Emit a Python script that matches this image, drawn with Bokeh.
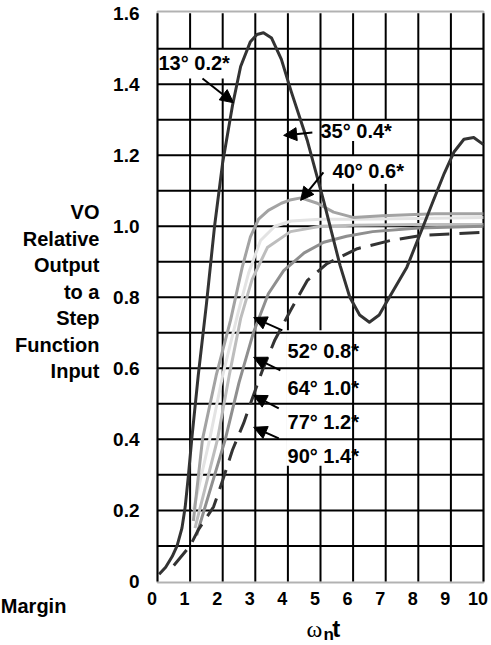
from bokeh.plotting import figure
from bokeh.models import (Range1d, Label, Arrow, NormalHead, LinearAxis, FixedTicker,
                          BoxAnnotation)
from bokeh.embed import file_html
from bokeh.resources import INLINE

# ---------------- data ----------------
# zeta = 0.2 (dark, oscillating)
t_z02 = [0.05, 0.25, 0.45, 0.6, 0.75, 0.85, 0.95, 1.05, 1.25, 1.5, 1.75, 2.0, 2.3, 2.55,
         2.85, 3.05, 3.25, 3.5, 3.8, 4.1, 4.6, 5.1, 5.6, 5.9, 6.2, 6.5, 6.8, 7.05, 7.65, 8.15,
         8.45, 8.8, 9.1, 9.4, 9.7, 10.0]
y_z02 = [0.02, 0.04, 0.07, 0.1, 0.15, 0.21, 0.3, 0.4, 0.58, 0.78, 1.0, 1.18, 1.34, 1.45,
         1.52, 1.54, 1.545, 1.53, 1.47, 1.38, 1.24, 1.07, 0.89, 0.80, 0.75, 0.73, 0.75, 0.79,
         0.885, 1.0, 1.07, 1.15, 1.21, 1.245, 1.25, 1.23]
# zeta = 0.6 (medium grey, small overshoot)
t_z06 = [1.1, 1.38, 1.8, 2.24, 2.6, 2.85, 3.1, 3.4, 3.8, 4.1, 4.4, 4.9, 5.4, 6.0, 6.9, 8.5, 10.0]
y_z06 = [0.17, 0.40, 0.58, 0.735, 0.885, 0.97, 1.02, 1.045, 1.065, 1.075, 1.08, 1.065, 1.04,
         1.025, 1.03, 1.035, 1.035]
# zeta = 0.8 (light grey)
t_z08 = [1.1, 1.6, 2.0, 2.48, 2.8, 3.16, 3.6, 4.1, 5.0, 6.0, 8.0, 10.0]
y_z08 = [0.2, 0.4, 0.58, 0.76, 0.87, 0.96, 1.0, 1.015, 1.02, 1.02, 1.022, 1.025]
# zeta = 1.0 (grey)
t_z10 = [1.15, 1.84, 2.2, 2.55, 2.9, 3.37, 4.08, 5.0, 6.0, 8.0, 10.0]
y_z10 = [0.15, 0.4, 0.58, 0.74, 0.85, 0.94, 0.985, 1.0, 1.003, 1.005, 1.005]
# zeta = 1.2 (darker grey)
t_z12 = [1.2, 2.08, 2.5, 2.94, 3.4, 3.87, 4.5, 5.1, 5.8, 6.6, 8.0, 10.0]
y_z12 = [0.13, 0.4, 0.56, 0.7, 0.81, 0.875, 0.925, 0.955, 0.972, 0.985, 0.995, 1.0]
# zeta = 1.4 (dashed)
t_z14 = [0.5, 1.0, 1.25, 1.72, 2.0, 2.3, 2.64, 2.85, 3.2, 3.6, 4.08, 4.6, 5.2, 6.13, 7.15,
         8.16, 10.0]
y_z14 = [0.045, 0.1, 0.145, 0.21, 0.285, 0.37, 0.445, 0.5, 0.59, 0.68, 0.763, 0.848, 0.895,
         0.937, 0.96, 0.975, 0.983]

x_ticks = [0, 1, 2, 3, 4, 5, 6, 7, 8, 9, 10]
x_tick_labels = ["0", "1", "2", "3", "4", "5", "6", "7", "8", "9", "10"]
y_ticks = [0, 0.2, 0.4, 0.6, 0.8, 1.0, 1.2, 1.4, 1.6]
y_tick_labels = ["0", "0.2", "0.4", "0.6", "0.8", "1.0", "1.2", "1.4", "1.6"]
grid_y = [0.1, 0.2, 0.3, 0.4, 0.5, 0.6, 0.7, 0.8, 0.9, 1.0, 1.1, 1.2, 1.3, 1.4, 1.5]

curve_labels = ["13° 0.2*", "35° 0.4*", "40° 0.6*", "52° 0.8*", "64° 1.0*", "77° 1.2*", "90° 1.4*"]
y_axis_lines = ["VO", "Relative", "Output", "to a", "Step", "Function", "Input"]

# ---------------- figure ----------------
FONT = "Liberation Sans"
W, H = 489, 643
X0_PX, X_PER = 157.0, 32.6        # pixel of x=0, pixels per unit
Y0_PX, Y_PER = 580.9, 355.1       # pixel (from top) of y=0, pixels per unit
x_lo, x_hi = -X0_PX / X_PER, (W - X0_PX) / X_PER
y_lo, y_hi = (Y0_PX - H) / Y_PER, Y0_PX / Y_PER
BOX_B, BOX_T = -0.003, 1.605      # plotting box (frame of the chart)

p = figure(width=W, height=H, x_range=Range1d(x_lo, x_hi), y_range=Range1d(y_lo, y_hi),
           x_axis_location=None, y_axis_location=None,
           toolbar_location=None, output_backend="svg", min_border=0)
p.outline_line_color = None
p.background_fill_color = "white"
p.border_fill_color = "white"
p.grid.visible = False

# axes drawn at the edges of the chart box
SHIFT = 0.17
p.extra_x_ranges = {"lbl": Range1d(x_lo + SHIFT, x_hi + SHIFT)}
xa = LinearAxis(x_range_name="lbl", ticker=FixedTicker(ticks=x_ticks), bounds=(0, 10),
                fixed_location=BOX_B,
                major_label_overrides=dict(zip(x_ticks, x_tick_labels)))
ya = LinearAxis(ticker=FixedTicker(ticks=y_ticks), fixed_location=0, bounds=(0, 1.6),
                major_label_overrides=dict(zip(y_ticks, y_tick_labels)))
for ax in (xa, ya):
    ax.axis_line_color = None
    ax.major_tick_line_color = None
    ax.minor_tick_line_color = None
    ax.major_tick_out = 0
    ax.major_tick_in = 0
    ax.major_label_text_font = FONT
    ax.major_label_text_font_style = "bold"
    ax.major_label_text_color = "black"
xa.major_label_text_font_size = "18px"
ya.major_label_text_font_size = "19px"
xa.major_label_standoff = 10
ya.major_label_standoff = 18
p.add_layout(xa, "below")
p.add_layout(ya, "left")

# grid: vertical lines, white gaps behind the labels, then horizontal lines
n_x = len(x_ticks)
p.segment(x0=x_ticks, y0=[0] * n_x, x1=x_ticks, y1=[1.6] * n_x, line_color="black",
          line_width=2, level="underlay")
gaps_l = [0.05, 5.3, 5.5, 6.5, 3.95]
gaps_r = [2.3, 7.35, 7.4, 7.3, 5.15]
gaps_b = [1.416, 1.24, 1.12, 1.12, 0.326]
gaps_t = [1.5, 1.30, 1.2, 1.3, 0.707]
p.quad(left=gaps_l, right=gaps_r, bottom=gaps_b, top=gaps_t, fill_color="white",
       line_color=None, level="underlay")
n_y = len(grid_y)
p.segment(x0=[0] * n_y, y0=grid_y, x1=[10] * n_y, y1=grid_y, line_color="black",
          line_width=2, level="underlay")

# curves
LW = 3
p.line(t_z08, y_z08, line_color="#e3e3e3", line_width=LW, line_join="round")
p.line(t_z10, y_z10, line_color="#bdbdbd", line_width=LW, line_join="round")
p.line(t_z06, y_z06, line_color="#a3a3a3", line_width=LW, line_join="round")
p.line(t_z12, y_z12, line_color="#8f8f8f", line_width=LW, line_join="round")
p.line(t_z14, y_z14, line_color="#333333", line_width=LW, line_dash="20 10", line_join="round")
p.line(t_z02, y_z02, line_color="#333333", line_width=LW, line_join="round")

# chart box
p.add_layout(BoxAnnotation(left=0, right=10, bottom=BOX_B, top=BOX_T, fill_alpha=0,
                           fill_color=None, line_color="black", line_width=2))

# curve labels and arrows
label_pos = [(0.03, 1.461), (5.0, 1.267), (5.37, 1.157), (3.99, 0.650), (3.99, 0.546),
             (3.99, 0.450), (3.99, 0.352)]
for txt, (lx, ly) in zip(curve_labels, label_pos):
    p.add_layout(Label(x=lx, y=ly, text=txt, text_font=FONT, text_font_style="bold",
                       text_font_size="20px", text_baseline="middle", text_align="left",
                       text_color="black"))
arrows = [((1.38, 1.416), (2.33, 1.348)), ((4.75, 1.264), (3.87, 1.256)),
          ((5.09, 1.152), (4.39, 1.073)), ((3.83, 0.707), (2.95, 0.743)),
          ((3.77, 0.594), (2.95, 0.631)), ((3.72, 0.487), (2.95, 0.524)),
          ((3.72, 0.403), (2.95, 0.434))]
for (x0, y0), (x1, y1) in arrows:
    p.add_layout(Arrow(x_start=x0, y_start=y0, x_end=x1, y_end=y1, line_width=2,
                       line_color="black",
                       end=NormalHead(size=13, fill_color="black", line_color="black")))

# y axis title (multi-line, right aligned)
for i, line in enumerate(y_axis_lines):
    p.add_layout(Label(x=-1.78, y=1.039 - i * 0.0745, text=line, text_font=FONT,
                       text_font_style="bold", text_font_size="20px", text_align="right",
                       text_baseline="middle", text_color="black"))

# x axis title: omega_n t
p.add_layout(Label(x=4.57, y=-0.133, text="ω", text_font="Liberation Serif",
                   text_font_size="24px", text_baseline="alphabetic", text_color="black"))
p.add_layout(Label(x=5.09, y=-0.15, text="n", text_font=FONT, text_font_style="bold",
                   text_font_size="17px", text_baseline="alphabetic", text_color="black"))
p.add_layout(Label(x=5.36, y=-0.133, text="t", text_font=FONT, text_font_style="bold",
                   text_font_size="24px", text_baseline="alphabetic", text_color="black"))

# "Margin" at the lower left
p.add_layout(Label(x=x_lo + 0.01, y=-0.068, text="Margin", text_font=FONT,
                   text_font_style="bold", text_font_size="20px", text_baseline="middle",
                   text_align="left", text_color="black"))

open("out.html", "w").write(file_html(p, INLINE))
